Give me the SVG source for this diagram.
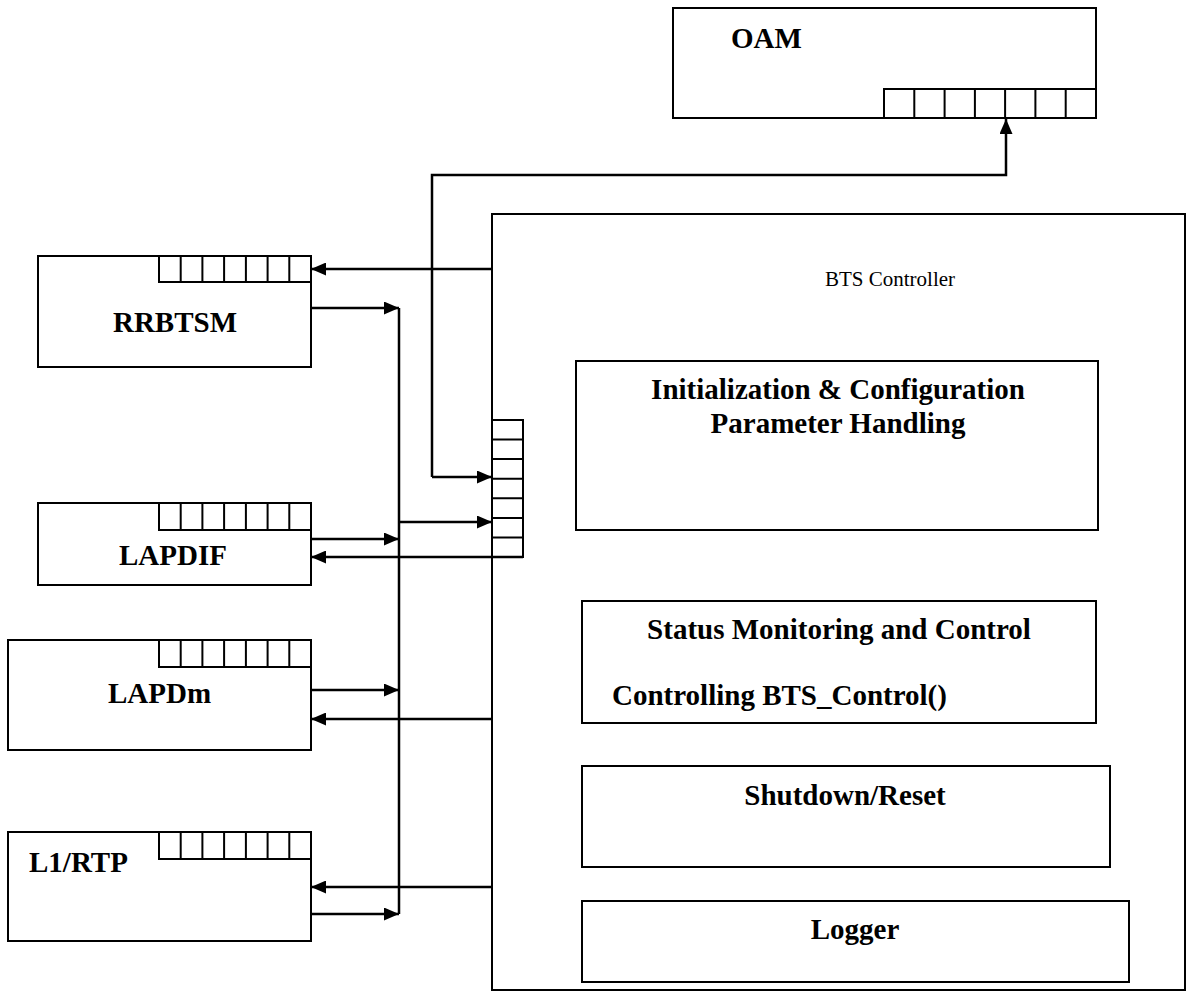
<svg xmlns="http://www.w3.org/2000/svg" width="1194" height="999" viewBox="0 0 1194 999">
<style>
.box{fill:#fff;stroke:#000;stroke-width:2}
.q{fill:none;stroke:#000;stroke-width:2}
.lbl{font-family:"Liberation Serif","Times New Roman",serif;font-weight:bold;font-size:29px;fill:#000}
.sm{font-family:"Liberation Serif","Times New Roman",serif;font-size:21px;fill:#000}
.c{fill:none;stroke:#000;stroke-width:2.5}
</style>
<defs>
<marker id="ah" viewBox="0 0 15 13" refX="15" refY="6.5" markerWidth="15" markerHeight="13" orient="auto" markerUnits="userSpaceOnUse">
<path d="M0,0 L15,6.5 L0,13 z" fill="#000"/>
</marker>
</defs>
<rect width="1194" height="999" fill="#fff"/>

<g id="oam">
<rect class="box" x="673" y="8" width="423" height="110"/>
<rect class="q" x="884" y="89" width="212" height="29"/>
<path class="q" d="M914.3,89V118M944.6,89V118M974.9,89V118M1005.1,89V118M1035.4,89V118M1065.7,89V118"/>
<text class="lbl" x="731" y="48">OAM</text>
</g>

<g id="bts-controller">
<rect class="box" x="492" y="214" width="693" height="776"/>
<text class="sm" x="890" y="286" text-anchor="middle">BTS Controller</text>
<rect class="q" x="492" y="420" width="31" height="137"/>
<path class="q" d="M492,439.6H523M492,459.1H523M492,478.7H523M492,498.3H523M492,517.9H523M492,537.4H523"/>
</g>

<g id="init">
<rect class="box" x="576" y="361" width="522" height="169"/>
<text class="lbl" x="838" y="399" text-anchor="middle">Initialization &amp; Configuration</text>
<text class="lbl" x="838" y="433" text-anchor="middle">Parameter Handling</text>
</g>

<g id="status">
<rect class="box" x="582" y="601" width="514" height="122"/>
<text class="lbl" x="839" y="639" text-anchor="middle">Status Monitoring and Control</text>
<text class="lbl" x="612" y="705">Controlling BTS_Control()</text>
</g>

<g id="shutdown">
<rect class="box" x="582" y="766" width="528" height="101"/>
<text class="lbl" x="845" y="805" text-anchor="middle">Shutdown/Reset</text>
</g>

<g id="logger">
<rect class="box" x="582" y="901" width="547" height="81"/>
<text class="lbl" x="855" y="939" text-anchor="middle">Logger</text>
</g>

<g id="rrbtsm">
<rect class="box" x="38" y="256" width="273" height="111"/>
<rect class="q" x="159" y="256" width="152" height="26"/>
<path class="q" d="M180.7,256V282M202.4,256V282M224.1,256V282M245.9,256V282M267.6,256V282M289.3,256V282"/>
<text class="lbl" x="175" y="332" text-anchor="middle">RRBTSM</text>
</g>

<g id="lapdif">
<rect class="box" x="38" y="503" width="273" height="82"/>
<rect class="q" x="159" y="503" width="152" height="27"/>
<path class="q" d="M180.7,503V530M202.4,503V530M224.1,503V530M245.9,503V530M267.6,503V530M289.3,503V530"/>
<text class="lbl" x="173" y="565" text-anchor="middle">LAPDIF</text>
</g>

<g id="lapdm">
<rect class="box" x="8" y="640" width="303" height="110"/>
<rect class="q" x="159" y="640" width="152" height="27"/>
<path class="q" d="M180.7,640V667M202.4,640V667M224.1,640V667M245.9,640V667M267.6,640V667M289.3,640V667"/>
<text class="lbl" x="108" y="703">LAPDm</text>
</g>

<g id="l1rtp">
<rect class="box" x="8" y="832" width="303" height="109"/>
<rect class="q" x="159" y="832" width="152" height="27"/>
<path class="q" d="M180.7,832V859M202.4,832V859M224.1,832V859M245.9,832V859M267.6,832V859M289.3,832V859"/>
<text class="lbl" x="29" y="872">L1/RTP</text>
</g>

<g id="connectors">
<path class="c" d="M432,477V175H1006V119" marker-end="url(#ah)"/>
<path class="c" d="M432,477H492" marker-end="url(#ah)"/>
<path class="c" d="M399,308V914"/>
<path class="c" d="M399,522H492" marker-end="url(#ah)"/>
<path class="c" d="M492,269H311" marker-end="url(#ah)"/>
<path class="c" d="M311,308H399" marker-end="url(#ah)"/>
<path class="c" d="M311,539H399" marker-end="url(#ah)"/>
<path class="c" d="M523,557H311" marker-end="url(#ah)"/>
<path class="c" d="M311,690H399" marker-end="url(#ah)"/>
<path class="c" d="M492,719H311" marker-end="url(#ah)"/>
<path class="c" d="M492,887H311" marker-end="url(#ah)"/>
<path class="c" d="M311,914H399" marker-end="url(#ah)"/>
</g>
</svg>
